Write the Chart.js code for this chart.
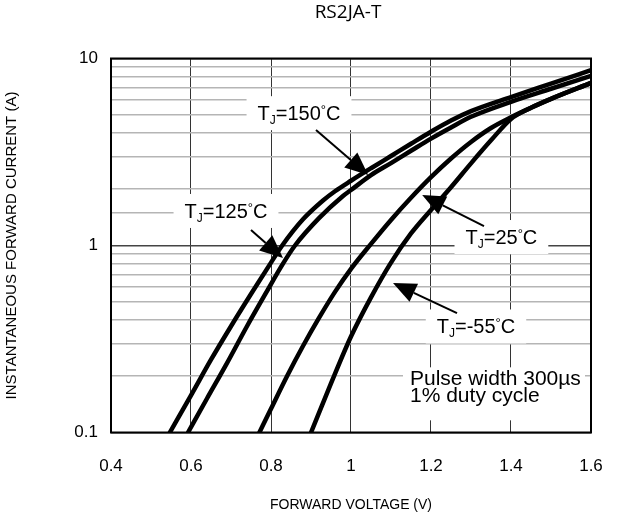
<!DOCTYPE html>
<html>
<head>
<meta charset="utf-8">
<script src="https://cdn.jsdelivr.net/npm/chart.js@4.4.0/dist/chart.umd.min.js"></script>
<style>
  html, body { margin: 0; padding: 0; background: #fff; }
  #wrap { width: 618px; height: 515px; position: relative; }
</style>
</head>
<body>
<div id="wrap"><canvas id="vfChart"></canvas></div>
<script>
// Chart text
const chartTitle = 'RS2JA-T';
const xAxisTitle = 'FORWARD VOLTAGE (V)';
const yAxisTitle = 'INSTANTANEOUS FORWARD CURRENT (A)';
const xTickValues = [0.4, 0.6, 0.8, 1, 1.2, 1.4, 1.6];
const yTickLabels = [0.1, 1, 10];

// Curves: forward voltage (V) vs current (A)
const temps = ['150', '125', '25', '-55'];
const v150 = [0.547, 0.600, 0.650, 0.700, 0.750, 0.800, 0.828, 0.880, 0.930, 0.960, 1.000, 1.050, 1.100, 1.150, 1.200, 1.250, 1.300, 1.400, 1.500, 1.600];
const i150 = [0.10, 0.158, 0.245, 0.37, 0.55, 0.81, 1.00, 1.38, 1.74, 1.95, 2.22, 2.59, 3.01, 3.50, 4.06, 4.66, 5.23, 6.22, 7.34, 8.66];
const v125 = [0.5925, 0.640, 0.690, 0.740, 0.790, 0.830, 0.860, 0.920, 0.980, 1.000, 1.050, 1.100, 1.150, 1.200, 1.250, 1.300, 1.400, 1.500, 1.600];
const i125 = [0.10, 0.152, 0.235, 0.37, 0.57, 0.80, 1.00, 1.40, 1.84, 1.98, 2.38, 2.76, 3.21, 3.73, 4.28, 4.88, 5.87, 6.89, 8.08];
const v25 = [0.771, 0.800, 0.840, 0.880, 0.920, 0.960, 1.000, 1.050, 1.100, 1.150, 1.200, 1.250, 1.300, 1.350, 1.400, 1.450, 1.500, 1.600];
const i25 = [0.10, 0.134, 0.20, 0.29, 0.41, 0.565, 0.75, 1.02, 1.37, 1.80, 2.32, 2.92, 3.58, 4.25, 4.85, 5.45, 6.08, 7.40];
const vM55 = [0.900, 0.950, 1.000, 1.050, 1.100, 1.150, 1.200, 1.250, 1.300, 1.350, 1.400, 1.450, 1.500, 1.600];
const iM55 = [0.10, 0.183, 0.326, 0.528, 0.81, 1.16, 1.55, 2.05, 2.75, 3.65, 4.75, 5.45, 6.08, 7.40];

// Callout labels and arrows (in data units: volts / amps)
const calloutV = [0.870, 0.6875, 1.376, 1.3125];
const calloutI = [5.10, 1.53, 1.11, 0.369];
const arrowFromV = [0.9125, 0.750, 1.3325, 1.265];
const arrowFromI = [4.15, 1.21, 1.27, 0.435];
const arrowToV = [1.043, 0.830, 1.178, 1.105];
const arrowToI = [2.38, 0.857, 1.86, 0.63];
const noteLines = ['Pulse width 300\u00b5s', '1% duty cycle'];
const noteV = 1.3575;
const noteI = 0.162;

const FONT = '"Liberation Sans", Arial, sans-serif';

function toPoints(vs, is) {
    return vs.map((v, k) => ({ x: v, y: is[k] }));
}

function isDecade(v) {
    const l = Math.log10(v);
    return Math.abs(l - Math.round(l)) < 1e-6;
}

// T_J=xxx°C with subscript J and small raised degree ring
function tempParts(temp) {
    return [
        { t: 'T', font: '20px ' + FONT, dy: 0 },
        { t: 'J', font: '12px ' + FONT, dy: 4 },
        { t: '=' + temp, font: '20px ' + FONT, dy: 0 },
        { t: '\u00b0', font: '13px ' + FONT, dy: -6 },
        { t: 'C', font: '20px ' + FONT, dy: 0 }
    ];
}

function measureParts(ctx, parts) {
    let w = 0;
    parts.forEach(p => {
        ctx.font = p.font;
        p.w = ctx.measureText(p.t).width;
        w += p.w;
    });
    return w;
}

function drawArrow(ctx, x1, y1, x2, y2) {
    const ang = Math.atan2(y2 - y1, x2 - x1);
    const headLen = 23, headHalf = 10;
    const bx = x2 - headLen * Math.cos(ang);
    const by = y2 - headLen * Math.sin(ang);
    ctx.strokeStyle = '#000';
    ctx.lineWidth = 2;
    ctx.beginPath();
    ctx.moveTo(x1, y1);
    ctx.lineTo(bx, by);
    ctx.stroke();
    ctx.fillStyle = '#000';
    ctx.beginPath();
    ctx.moveTo(x2, y2);
    ctx.lineTo(bx + headHalf * Math.sin(ang), by - headHalf * Math.cos(ang));
    ctx.lineTo(bx - headHalf * Math.sin(ang), by + headHalf * Math.cos(ang));
    ctx.closePath();
    ctx.fill();
}

const calloutPlugin = {
    id: 'callouts',
    beforeDatasetsDraw(chart) {
        const ctx = chart.ctx;
        const xs = chart.scales.x, ys = chart.scales.y;
        ctx.save();
        ctx.textBaseline = 'alphabetic';
        ctx.textAlign = 'left';
        // temperature labels on white boxes
        temps.forEach((temp, k) => {
            const cx = xs.getPixelForValue(calloutV[k]);
            const cy = ys.getPixelForValue(calloutI[k]);
            const parts = tempParts(temp);
            const w = measureParts(ctx, parts);
            ctx.fillStyle = '#fff';
            ctx.fillRect(cx - w / 2 - 11, cy - 17, w + 22, 34);
            let x = cx - w / 2;
            ctx.fillStyle = '#000';
            parts.forEach(p => {
                ctx.font = p.font;
                ctx.fillText(p.t, x, cy + 7 + p.dy);
                x += p.w;
            });
        });
        // test condition note
        const nx = xs.getPixelForValue(noteV);
        const ny = ys.getPixelForValue(noteI);
        ctx.font = '21px ' + FONT;
        ctx.fillStyle = '#fff';
        ctx.fillRect(nx - 91, ny - 26, 182, 53);
        ctx.fillStyle = '#000';
        noteLines.forEach((line, k) => {
            ctx.fillText(line, nx - 84, ny - 8.5 + k * 17);
        });
        ctx.restore();
    },
    afterDatasetsDraw(chart) {
        const ctx = chart.ctx;
        const xs = chart.scales.x, ys = chart.scales.y;
        const a = chart.chartArea;
        ctx.save();
        temps.forEach((temp, k) => {
            drawArrow(ctx,
                xs.getPixelForValue(arrowFromV[k]), ys.getPixelForValue(arrowFromI[k]),
                xs.getPixelForValue(arrowToV[k]), ys.getPixelForValue(arrowToI[k]));
        });
        // plot frame
        ctx.strokeStyle = '#000';
        ctx.lineWidth = 2;
        ctx.strokeRect(a.left, a.top, a.right - a.left, a.bottom - a.top);
        // chart title
        ctx.fillStyle = '#000';
        ctx.font = '19px "Open Sans", sans-serif';
        ctx.textAlign = 'center';
        ctx.textBaseline = 'middle';
        ctx.fillText(chartTitle, (a.left + a.right) / 2 - 3, 13);
        ctx.restore();
    }
};

const curveStyle = {
    borderColor: '#000',
    backgroundColor: '#000',
    borderWidth: 4.5,
    pointRadius: 0,
    fill: false,
    cubicInterpolationMode: 'monotone',
    borderCapStyle: 'round',
    borderJoinStyle: 'round'
};

const ctx = document.getElementById('vfChart').getContext('2d');
const vfChart = new Chart(ctx, {
    type: 'line',
    data: {
        datasets: [
            { label: 'TJ=150°C', data: toPoints(v150, i150), ...curveStyle },
            { label: 'TJ=125°C', data: toPoints(v125, i125), ...curveStyle },
            { label: 'TJ=25°C', data: toPoints(v25, i25), ...curveStyle },
            { label: 'TJ=-55°C', data: toPoints(vM55, iM55), ...curveStyle }
        ]
    },
    options: {
        responsive: true,
        maintainAspectRatio: false,
        animation: false,
        layout: { padding: { top: 58.5, right: 27, left: 0, bottom: 0 } },
        plugins: {
            legend: { display: false },
            title: { display: false },
            tooltip: { enabled: false }
        },
        scales: {
            x: {
                type: 'linear',
                min: 0.4,
                max: 1.6,
                afterBuildTicks: scale => {
                    scale.ticks = xTickValues.map(v => ({ value: v }));
                },
                afterFit: scale => {
                    scale.height = 82.5;
                    scale.paddingLeft = 0;
                    scale.paddingRight = 0;
                },
                grid: { color: '#333', lineWidth: 1, drawTicks: false },
                border: { display: false },
                ticks: {
                    padding: 24,
                    color: '#000',
                    font: { family: FONT, size: 17 },
                    maxRotation: 0,
                    callback: v => String(Number(v.toFixed(1)))
                },
                title: {
                    display: true,
                    text: xAxisTitle,
                    color: '#000',
                    font: { family: FONT, size: 14 },
                    padding: { top: 0, bottom: 1 }
                }
            },
            y: {
                type: 'logarithmic',
                min: 0.1,
                max: 10,
                afterFit: scale => { scale.width = 111; },
                grid: {
                    drawTicks: false,
                    color: c => isDecade(c.tick.value) ? '#444' : '#b5b5b5',
                    lineWidth: 1.5
                },
                border: { display: false },
                ticks: {
                    autoSkip: false,
                    padding: 13,
                    color: '#000',
                    font: { family: FONT, size: 17 },
                    callback: v => yTickLabels.some(t => Math.abs(t - v) < 1e-9) ? String(v) : ''
                },
                title: {
                    display: true,
                    text: yAxisTitle,
                    color: '#000',
                    font: { family: FONT, size: 15 },
                    padding: { top: 3, bottom: 0 }
                }
            }
        }
    },
    plugins: [calloutPlugin]
});
</script>
</body>
</html>
